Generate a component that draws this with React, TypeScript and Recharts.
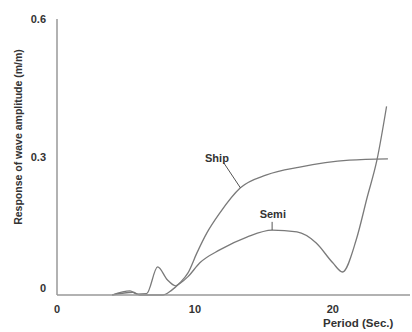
import React from 'react';
import { LineChart, Line, XAxis, YAxis, ReferenceLine, ReferenceDot, Label } from 'recharts';

const shipPeriod = [4, 5.5, 6, 7.7, 8.3, 8.9, 9.5, 10.14, 10.87, 11.8, 13.3, 15.2, 17.6, 21.2, 24];
const shipValues = [0, 0.006, 0, 0, 0.01, 0.026, 0.048, 0.091, 0.135, 0.178, 0.233, 0.261, 0.278, 0.293, 0.296];

const semiPeriod = [4, 5.3, 5.8, 6.5, 7.3, 8.0, 8.6, 9.0, 9.5, 10.36, 11.8, 13.77, 15.6, 17.4, 18.8, 20, 20.7, 21.7, 22.5, 23.2, 23.9];
const semiValues = [0, 0.009, 0.002, 0.003, 0.061, 0.033, 0.02, 0.027, 0.04, 0.07, 0.098, 0.126, 0.141, 0.137, 0.113, 0.07, 0.05, 0.12, 0.213, 0.293, 0.41];

const xTicks = [0, 10, 20];
const yTicks = [0, 0.3, 0.6];

const shipData = shipPeriod.map((p, i) => ({ period: p, value: shipValues[i] }));
const semiData = semiPeriod.map((p, i) => ({ period: p, value: semiValues[i] }));

const FONT = '"Liberation Sans", Arial, sans-serif';
const TEXT = '#333';
const LINE = '#7a7a7a';

const YTick = (props: any) => {
  const { x, y, payload } = props;
  const v = payload.value;
  const label = v === 0 ? '0' : String(v);
  const dy = v === 0 ? -3 : 4;
  return (
    <text x={x - 3} y={y + dy} textAnchor="end" fontFamily={FONT} fontWeight="bold" fontSize={11} fill={TEXT}>
      {label}
    </text>
  );
};

const XTick = (props: any) => {
  const { x, y, payload } = props;
  return (
    <text x={x} y={y + 10} textAnchor="middle" fontFamily={FONT} fontWeight="bold" fontSize={11} fill={TEXT}>
      {String(payload.value)}
    </text>
  );
};

const YLabel = () => (
  <text
    x={18}
    y={137}
    transform="rotate(-90, 18, 137)"
    textAnchor="middle"
    dominantBaseline="central"
    fontFamily={FONT}
    fontWeight="bold"
    fontSize={10.5}
    fill={TEXT}
  >
    Response of wave amplitude (m/m)
  </text>
);

const XLabel = () => (
  <text x={323} y={327} textAnchor="start" fontFamily={FONT} fontWeight="bold" fontSize={11.5} fill={TEXT}>
    Period (Sec.)
  </text>
);

export default function App() {
  return (
    <div style={{ position: 'absolute', left: 0, top: 0, width: 412, height: 332, background: '#fff' }}>
      <LineChart width={412} height={332} margin={{ top: 19, right: 2, left: 0, bottom: 17 }}>
        <XAxis
          type="number"
          dataKey="period"
          domain={[0, 25.6]}
          ticks={xTicks}
          allowDataOverflow
          height={20}
          stroke="#999"
          strokeWidth={1.5}
          tickLine={false}
          tick={<XTick />}
        >
          <Label content={<XLabel />} />
        </XAxis>
        <YAxis
          type="number"
          dataKey="value"
          domain={[0, 0.6]}
          ticks={yTicks}
          width={57}
          stroke="#999"
          strokeWidth={1.5}
          tickLine={false}
          tick={<YTick />}
        >
          <Label content={<YLabel />} />
        </YAxis>
        <Line
          data={shipData}
          dataKey="value"
          type="monotone"
          stroke={LINE}
          strokeWidth={1.3}
          dot={false}
          isAnimationActive={false}
        />
        <Line
          data={semiData}
          dataKey="value"
          type="monotone"
          stroke={LINE}
          strokeWidth={1.3}
          dot={false}
          isAnimationActive={false}
        />
        <ReferenceLine
          segment={[{ x: 12.1, y: 0.287 }, { x: 13.3, y: 0.233 }]}
          stroke="#555"
          strokeWidth={1}
        />
        <ReferenceLine
          segment={[{ x: 15.6, y: 0.159 }, { x: 15.6, y: 0.141 }]}
          stroke="#555"
          strokeWidth={1}
        />
        <ReferenceDot
          x={11.6}
          y={0.298}
          r={0}
          fill="none"
          stroke="none"
          label={{ value: 'Ship', position: 'center', fontFamily: FONT, fontWeight: 'bold', fontSize: 11, fill: TEXT }}
        />
        <ReferenceDot
          x={15.65}
          y={0.176}
          r={0}
          fill="none"
          stroke="none"
          label={{ value: 'Semi', position: 'center', fontFamily: FONT, fontWeight: 'bold', fontSize: 11, fill: TEXT }}
        />
      </LineChart>
    </div>
  );
}
